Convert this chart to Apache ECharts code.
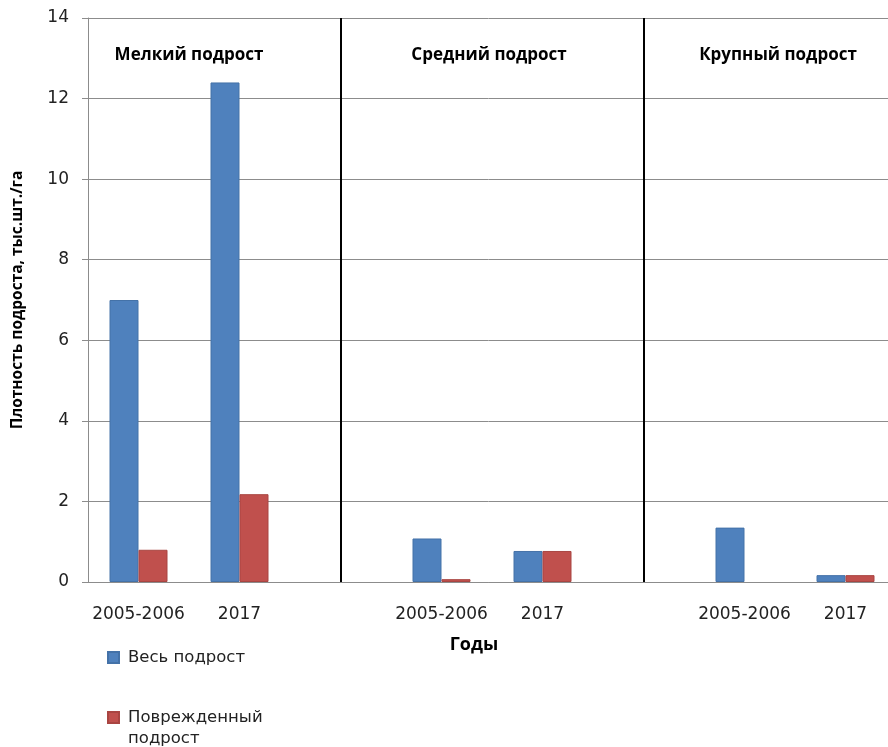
<!DOCTYPE html>
<html>
<head>
<meta charset="utf-8">
<script src="https://cdn.jsdelivr.net/npm/echarts@6/dist/echarts.min.js"></script>
<style>
html,body{margin:0;padding:0;background:#fff;}
#chart{width:888px;height:747px;}
</style>
</head>
<body>
<div id="chart"></div>
<script>
// Data
const categories = ['2005-2006', '2017', '', '2005-2006', '2017', '', '2005-2006', '2017'];
const allValues = [7.0, 12.4, null, 1.08, 0.77, null, 1.35, 0.17];
const damagedValues = [0.8, 2.18, null, 0.07, 0.77, null, null, 0.17];
const seriesNames = ['Весь подрост', 'Поврежденный подрост'];
const groupTitles = ['Мелкий подрост', 'Средний подрост', 'Крупный подрост'];
const separatorIndices = [2, 5];
const yTicks = [0, 2, 4, 6, 8, 10, 12, 14];
const yAxisName = 'Плотность подроста, тыс.шт./га';
const xAxisName = 'Годы';

const FONT = 'DejaVu Sans';
const BOLD = 'bold 17px "Open Sans"';
const chart = echarts.init(document.getElementById('chart'), null, {renderer: 'canvas'});

const option = {
  animation: false,
  backgroundColor: '#ffffff',
  grid: {left: 88, top: 18, width: 808, height: 564, containLabel: false, outerBoundsMode: 'none'},
  xAxis: {
    type: 'category',
    data: categories,
    axisLine: {show: true, lineStyle: {color: '#8c8c8c', width: 1}},
    axisTick: {show: false},
    axisLabel: {interval: 0, margin: 24, color: '#222', fontFamily: FONT, fontSize: 17},
    splitLine: {show: false}
  },
  yAxis: {
    type: 'value',
    min: yTicks[0],
    max: yTicks[yTicks.length - 1],
    interval: 2,
    name: yAxisName,
    nameLocation: 'middle',
    nameGap: 62,
    nameRotate: 90,
    nameTextStyle: {fontFamily: 'Open Sans', fontWeight: 'bold', fontSize: 15.5, color: '#000'},
    axisLine: {show: true, lineStyle: {color: '#8c8c8c', width: 1}},
    axisTick: {show: true, length: 6, lineStyle: {color: '#8c8c8c'}},
    axisLabel: {margin: 19, color: '#222', fontFamily: FONT, fontSize: 17},
    splitLine: {show: true, lineStyle: {color: '#8c8c8c', width: 1}}
  },
  legend: [
    {
      data: [seriesNames[0]],
      orient: 'vertical',
      left: 107, top: 647, padding: 0,
      itemWidth: 11, itemHeight: 11, icon: 'rect',
      textStyle: {fontFamily: FONT, fontSize: 16.5, color: '#222', lineHeight: 21, padding: [0, 0, 0, 4]}
    },
    {
      data: [seriesNames[1]],
      orient: 'vertical',
      left: 107, top: 686, padding: 0,
      itemWidth: 11, itemHeight: 11, icon: 'rect',
      formatter: function (n) { return '\u00a0\n' + n.replace(' ', '\n'); },
      textStyle: {fontFamily: FONT, fontSize: 16.5, color: '#222', lineHeight: 21, padding: [0, 0, 0, 4]}
    }
  ],
  series: [
    {
      name: seriesNames[0],
      type: 'bar',
      data: allValues,
      barWidth: 29,
      barGap: '0%',
      itemStyle: {color: '#4F81BD', borderColor: '#4472a8', borderWidth: 1}
    },
    {
      name: seriesNames[1],
      type: 'bar',
      data: damagedValues,
      barWidth: 29,
      itemStyle: {color: '#C0504D', borderColor: '#a94542', borderWidth: 1}
    },
    {
      name: 'separators',
      type: 'line',
      data: [],
      markLine: {
        silent: true,
        symbol: ['none', 'none'],
        label: {show: false},
        lineStyle: {color: '#000', width: 2, type: 'solid'},
        data: separatorIndices.map(i => ({xAxis: i}))
      }
    }
  ],
  graphic: [
    {type: 'text', x: 189, y: 55, style: {text: groupTitles[0], font: BOLD, fill: '#000', align: 'center', verticalAlign: 'middle'}},
    {type: 'text', x: 489, y: 55, style: {text: groupTitles[1], font: BOLD, fill: '#000', align: 'center', verticalAlign: 'middle'}},
    {type: 'text', x: 778, y: 55, style: {text: groupTitles[2], font: BOLD, fill: '#000', align: 'center', verticalAlign: 'middle'}},
    {type: 'text', x: 474, y: 645, style: {text: xAxisName, font: 'bold 18px "Open Sans"', fill: '#000', align: 'center', verticalAlign: 'middle'}}
  ]
};
chart.setOption(option);
</script>
</body>
</html>
